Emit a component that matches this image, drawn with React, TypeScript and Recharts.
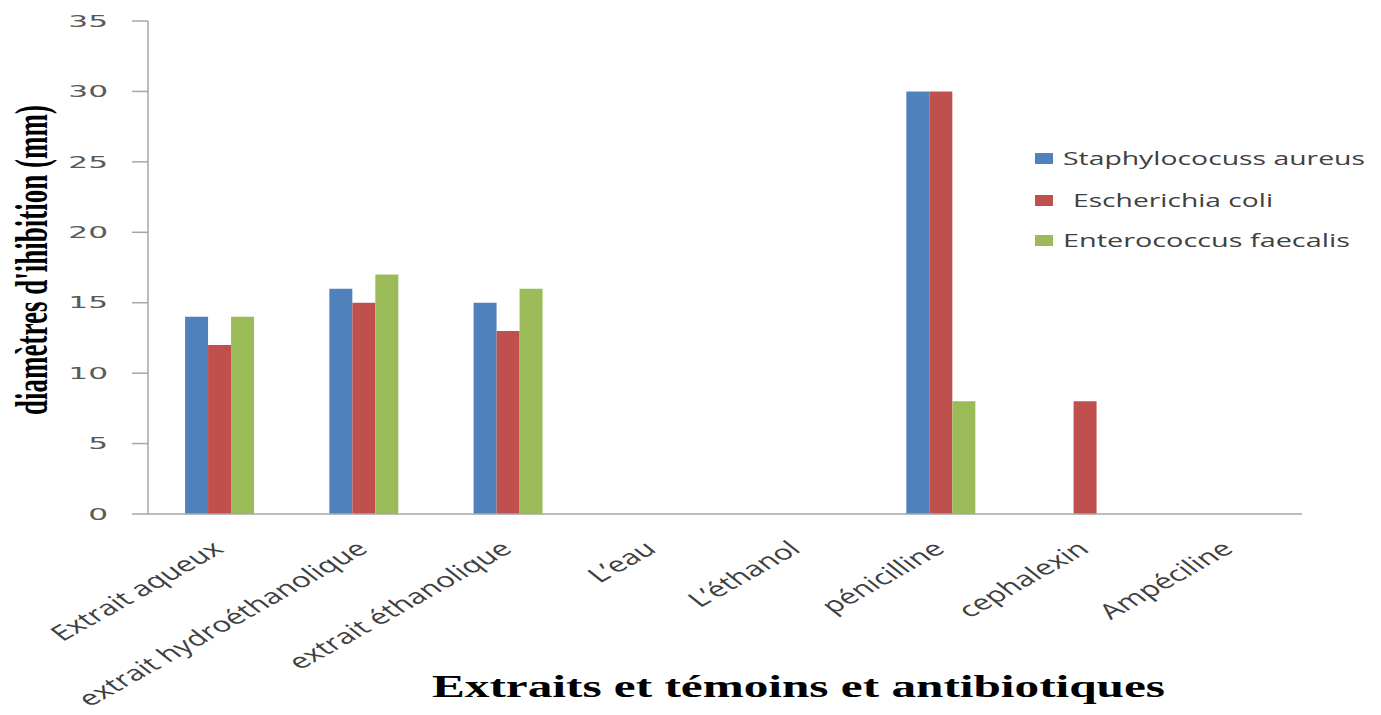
import { BarChart, Bar, XAxis, YAxis } from "recharts";

const categories = [
  "Extrait aqueux",
  "extrait hydroéthanolique",
  "extrait éthanolique",
  "L’eau",
  "L’éthanol",
  "pénicilline",
  "cephalexin",
  "Ampéciline",
];
const staphylococcus = [14, 16, 15, 0, 0, 30, 0, 0];
const escherichia = [12, 15, 13, 0, 0, 30, 8, 0];
const enterococcus = [14, 17, 16, 0, 0, 8, 0, 0];
const yTicks = [0, 5, 10, 15, 20, 25, 30, 35];

const seriesNames = ["Staphylococuss aureus", " Escherichia coli", "Enterococcus faecalis"];
const seriesColors = ["#4F81BD", "#C0504D", "#9BBB59"];

const data = categories.map((name, i) => ({
  name,
  staph: staphylococcus[i],
  ecoli: escherichia[i],
  entero: enterococcus[i],
}));

const AXIS_COLOR = "#a6a6a6";

function YTick({ x, y, payload }: any) {
  return (
    <text
      transform={`translate(${x},${y}) scale(1.95,1)`}
      textAnchor="end"
      dy="0.36em"
      fontFamily="DejaVu Sans"
      fontSize={16}
      fill="#595959"
    >
      {payload.value}
    </text>
  );
}

function XTick({ x, y, payload }: any) {
  return (
    <text
      transform={`translate(${x + 5},${y + 37}) scale(1.5,1) rotate(-40)`}
      textAnchor="end"
      fontFamily="Open Sans"
      fontSize={21}
      fill="#404040"
    >
      {payload.value}
    </text>
  );
}

// legend text spans (start, end, baseline)
const legendRows = [
  { x0: 38, x1: 340, y: 25 },
  { x0: 48, x1: 248, y: 67 },
  { x0: 38, x1: 325, y: 107 },
];

function LegendBox() {
  return (
    <svg width={356} height={120}>
      {seriesNames.map((n, i) => (
        <g key={n}>
          <rect x={10} y={legendRows[i].y - 12} width={18} height={11} fill={seriesColors[i]} />
          <text
            x={legendRows[i].x0}
            y={legendRows[i].y}
            fontFamily="Open Sans"
            fontSize={18}
            fill="#404040"
            textLength={legendRows[i].x1 - legendRows[i].x0}
            lengthAdjust="spacingAndGlyphs"
          >
            {n.trim()}
          </text>
        </g>
      ))}
    </svg>
  );
}

export default function App() {
  return (
    <div style={{ position: "absolute", left: 0, top: 0, width: 1381, height: 715, background: "#fff" }}>
      <BarChart
        width={1381}
        height={715}
        data={data}
        margin={{ top: 21, right: 79, left: 0, bottom: 0 }}
        barCategoryGap="25.7%"
        barGap={0}
      >
        <XAxis
          dataKey="name"
          height={201}
          interval={0}
          tickLine={false}
          tickSize={0}
          tickMargin={0}
          axisLine={{ stroke: AXIS_COLOR, strokeWidth: 1.5 }}
          tick={<XTick />}
          label={{
            content: () => (
              <text
                x={432}
                y={697}
                fontFamily="Liberation Serif"
                fontWeight="bold"
                fontSize={32}
                fill="#000"
                textLength={733}
                lengthAdjust="spacingAndGlyphs"
              >
                Extraits et témoins et antibiotiques
              </text>
            ),
          }}
        />
        <YAxis
          width={148}
          domain={[0, 35]}
          ticks={yTicks}
          interval={0}
          tickSize={16}
          tickMargin={24}
          tickLine={{ stroke: AXIS_COLOR, strokeWidth: 1.5 }}
          axisLine={{ stroke: AXIS_COLOR, strokeWidth: 1.5 }}
          tick={<YTick />}
          label={{
            content: () => (
              <text
                transform="translate(47,260) scale(1.75,1) rotate(-90)"
                textAnchor="middle"
                fontFamily="Liberation Serif"
                fontWeight="bold"
                fontSize={27}
                fill="#000"
                textLength={310}
                lengthAdjust="spacingAndGlyphs"
              >
                diamètres d'ihibition (mm)
              </text>
            ),
          }}
        />
        <Bar dataKey="staph" name={seriesNames[0]} fill={seriesColors[0]} isAnimationActive={false} />
        <Bar dataKey="ecoli" name={seriesNames[1]} fill={seriesColors[1]} isAnimationActive={false} />
        <Bar dataKey="entero" name={seriesNames[2]} fill={seriesColors[2]} isAnimationActive={false} />
      </BarChart>
      <div style={{ position: "absolute", left: 1025, top: 140 }}>
        <LegendBox />
      </div>
    </div>
  );
}
